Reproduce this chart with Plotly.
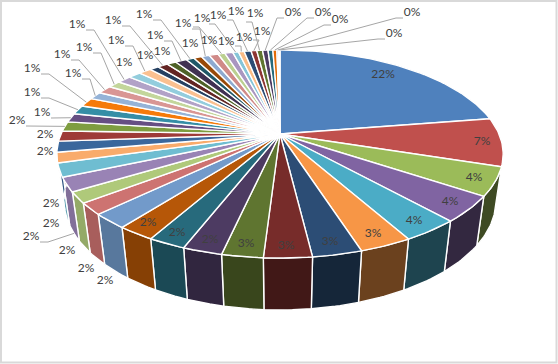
import math
import plotly.graph_objects as go

values = [22.49, 7.49, 4.4, 4.0, 3.5, 3.2, 3.0, 2.9, 2.5, 2.4, 2.3, 2.3,
          2.3, 1.8, 1.7, 2.2, 2.1, 1.6, 1.7, 1.6, 1.5, 1.4, 1.4, 1.4,
          1.2, 1.3, 1.1, 1.2, 1.1, 1.1, 0.8, 0.9, 0.8, 1.0, 0.7, 0.7,
          0.7, 0.8, 0.6, 0.7, 0.5, 0.5, 0.6, 0.5, 0.5, 0.48, 0.42, 0.35,
          0.15, 0.12]
percent_labels = ["22%", "7%", "4%", "4%", "4%", "3%", "3%", "3%", "3%", "2%", "2%", "2%",
                  "2%", "2%", "2%", "2%", "2%", "2%", "2%", "2%", "2%", "1%", "1%", "1%",
                  "1%", "1%", "1%", "1%", "1%", "1%", "1%", "1%", "1%", "1%", "1%", "1%",
                  "1%", "1%", "1%", "1%", "1%", "1%", "1%", "1%", "1%", "0%", "0%", "0%",
                  "0%", "0%"]
slice_colors = ["#4F81BD", "#C0504D", "#9BBB59", "#8064A2", "#4BACC6", "#F79646",
                "#2C4D75", "#772C2A", "#5F7530", "#4D3B62", "#276A7C", "#B65708",
                "#729ACA", "#CD7371", "#AFC97A", "#9983B5", "#6FBDD1", "#F9AB6B",
                "#3A679C", "#9E3B38", "#7E9D40", "#664F83", "#358EA6", "#F57A0A",
                "#95B3D7", "#D99694", "#C3D69B", "#B2A2C7", "#93CDDD", "#FAC090",
                "#254061", "#632523", "#4F6228", "#403152", "#215868", "#984807",
                "#8EAAD0", "#D08A88", "#BBD090", "#A996C0", "#86C5D8", "#FABB85",
                "#2C4D75", "#8C3533", "#5F7530", "#4D3B62", "#276A7C", "#E36C09",
                "#B8CCE4", "#E6B8B7"]

# text centres (page pixels) for each slice's label - layout only
label_x = [383, 482, 474, 450, 414, 373, 330, 286, 246, 210, 177, 148,
           105, 86, 67, 31, 51, 51, 45, 45, 17, 42, 32, 32,
           73, 62, 84, 77, 124, 116, 145, 113, 162, 155, 144, 190,
           183, 209, 202, 226, 218, 244, 236, 262, 255, 293, 323, 340,
           412, 394]
label_y = [75, 142, 178, 202, 221, 234, 242, 246, 244, 240, 233, 223,
           281, 269, 251, 237, 224, 204, 152, 135, 121, 113, 93, 69,
           74, 55, 48, 25, 63, 41, 56, 21, 52, 36, 15, 44,
           24, 41, 19, 42, 16, 38, 12, 32, 14, 13, 13, 20,
           13, 34]
# leader style per slice: "" none, "r" elbow right of text, "u" elbow under text, "l" elbow left of text
leader_style = ["", "", "", "", "", "", "", "", "", "", "", "",
                "", "", "", "r", "", "", "", "", "r", "r", "r", "r",
                "r", "r", "r", "r", "", "r", "", "r", "", "r", "r", "",
                "r", "", "u", "", "u", "u", "u", "u", "u", "l", "l", "l",
                "l", "l"]

CX, CY, A, B, K, C, D = 280.0, 134.0, 219.0, 100.2, 0.192, 0.032, 47.6


def project(theta, lower=False):
    X, Y = math.sin(theta), math.cos(theta)
    w = 1 + K * Y
    if lower:
        return CX + A * X / (w + C), CY + (-B * Y + D) / (w + C)
    return CX + A * X / w, CY - B * Y / w


def arc(t0, t1, lower=False):
    n = max(2, int(abs(t1 - t0) / 0.02) + 2)
    return [project(t0 + (t1 - t0) * i / (n - 1), lower) for i in range(n)]


def shade(hex_color, f):
    r, g, b = (int(hex_color[i:i + 2], 16) for i in (1, 3, 5))
    return f"rgb({int(r * f)},{int(g * f)},{int(b * f)})"


total = sum(values)
edges = [0.0]
for v in values:
    edges.append(edges[-1] + v / total * 2 * math.pi)

fig = go.Figure()


def poly(points, fill, line="white", width=1.4):
    xs = [p[0] for p in points] + [points[0][0]]
    ys = [p[1] for p in points] + [points[0][1]]
    fig.add_trace(go.Scatter(x=xs, y=ys, mode="lines", fill="toself", fillcolor=fill,
                             line=dict(color=line, width=width), hoverinfo="skip", showlegend=False))


# rim faces
for i, col in enumerate(slice_colors):
    t0, t1 = edges[i], edges[i + 1]
    deg = math.degrees((t0 + t1) / 2)
    if not 90 < deg < 270:
        continue
    f = min(0.85, max(0.4, 0.4 + (deg - 150) * 0.45 / 85))
    poly(arc(t0, t1) + arc(t1, t0, True), shade(col, f))

# top faces
for i, col in enumerate(slice_colors):
    poly([(CX, CY)] + arc(edges[i], edges[i + 1]), col)

# leader lines
for i, style in enumerate(leader_style):
    if not style:
        continue
    mid = (edges[i] + edges[i + 1]) / 2
    end = project(mid, lower=(i == 15))
    lx, ly = label_x[i], label_y[i]
    if style == "r":
        pts = [(lx + 9, ly + 5), (lx + 17, ly + 5)]
    elif style == "u":
        pts = [(lx - 9, ly + 8), (lx - 3, ly + 8)]
    else:
        pts = [(lx - 9, ly + 5), (lx - 16, ly + 5)]
    pts.append(end)
    fig.add_trace(go.Scatter(x=[p[0] for p in pts], y=[p[1] for p in pts], mode="lines",
                             line=dict(color="#A6A6A6", width=1), hoverinfo="skip", showlegend=False))

fig.add_trace(go.Scatter(x=label_x, y=label_y, mode="text", text=percent_labels,
                         textposition="middle center",
                         textfont=dict(family="Lato", size=12, color="#404040"),
                         hoverinfo="skip", showlegend=False))

fig.update_layout(
    width=558, height=364, margin=dict(l=0, r=0, t=0, b=0),
    paper_bgcolor="white", plot_bgcolor="white", showlegend=False,
    xaxis=dict(range=[0, 558], visible=False, fixedrange=True),
    yaxis=dict(range=[364, 0], visible=False, fixedrange=True),
    shapes=[dict(type="rect", xref="x", yref="y", x0=1, y0=1, x1=556.5, y1=362.5,
                 line=dict(color="#D9D9D9", width=2), layer="below")],
)
fig.write_html("out.html", config={"displayModeBar": False},
               post_script="document.body.style.margin='0';document.documentElement.style.overflow='hidden';")
